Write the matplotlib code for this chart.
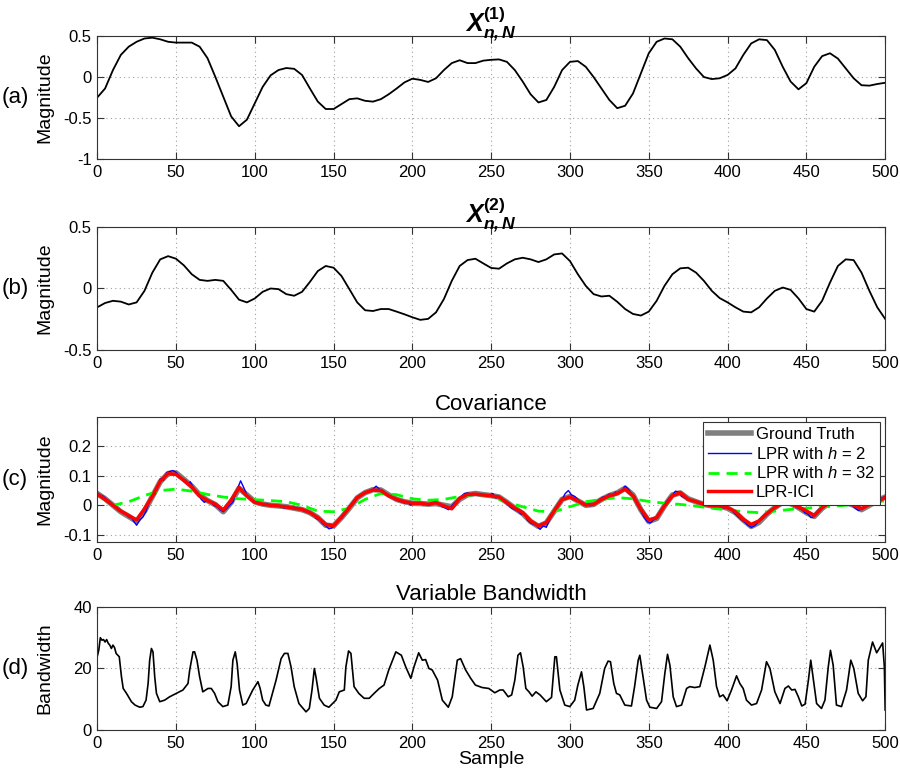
import numpy as np
import matplotlib
matplotlib.use('Agg')
import matplotlib.pyplot as plt

plt.rcParams['font.family'] = ['Liberation Sans', 'DejaVu Sans']
plt.rcParams['mathtext.fontset'] = 'custom'
plt.rcParams['mathtext.rm'] = 'Liberation Sans'
plt.rcParams['mathtext.it'] = 'Liberation Sans:italic'
plt.rcParams['mathtext.bf'] = 'Liberation Sans:bold'
plt.rcParams['mathtext.bfit'] = 'Liberation Sans:bold:italic'

# sample grid used for the smooth curves (every 5 samples)
samples5 = np.arange(0, 501, 5)

# (a) X^(1)_{n,N}
x1_vals = [-0.25, -0.14, 0.085, 0.27, 0.37, 0.43, 0.47, 0.48, 0.46, 0.43,
           0.42, 0.42, 0.42, 0.37, 0.23, 0.0, -0.24, -0.48, -0.60, -0.52,
           -0.32, -0.12, 0.02, 0.085, 0.11, 0.10, 0.025, -0.14, -0.30, -0.39,
           -0.39, -0.33, -0.27, -0.26, -0.29, -0.30, -0.27, -0.21, -0.14, -0.065,
           -0.02, -0.035, -0.06, -0.015, 0.085, 0.17, 0.205, 0.17, 0.17, 0.2,
           0.21, 0.215, 0.185, 0.085, -0.055, -0.21, -0.31, -0.28, -0.12, 0.085,
           0.185, 0.195, 0.125, 0.0, -0.14, -0.28, -0.38, -0.35, -0.2, 0.045,
           0.29, 0.43, 0.47, 0.46, 0.37, 0.23, 0.105, 0.0, -0.025, -0.015,
           0.025, 0.105, 0.27, 0.41, 0.46, 0.45, 0.33, 0.125, -0.055, -0.15,
           -0.075, 0.125, 0.255, 0.29, 0.225, 0.105, -0.015, -0.1, -0.105, -0.085,
           -0.07]

# (b) X^(2)_{n,N}
x2_vals = [-0.153, -0.118, -0.10, -0.107, -0.13, -0.113, -0.019, 0.129, 0.237, 0.263,
           0.242, 0.188, 0.116, 0.07, 0.062, 0.07, 0.062, -0.011, -0.091, -0.113,
           -0.081, -0.027, 0.0, -0.005, -0.046, -0.059, -0.027, 0.054, 0.142, 0.183,
           0.169, 0.102, -0.005, -0.113, -0.177, -0.183, -0.167, -0.167, -0.188, -0.21,
           -0.234, -0.255, -0.247, -0.194, -0.086, 0.062, 0.183, 0.231, 0.242, 0.204,
           0.167, 0.161, 0.204, 0.237, 0.25, 0.237, 0.215, 0.237, 0.277, 0.285,
           0.223, 0.116, 0.022, -0.046, -0.065, -0.059, -0.108, -0.167, -0.207, -0.22,
           -0.188, -0.1, 0.022, 0.116, 0.164, 0.169, 0.129, 0.062, -0.019, -0.078,
           -0.113, -0.153, -0.188, -0.194, -0.153, -0.081, -0.019, 0.008, -0.011, -0.081,
           -0.167, -0.188, -0.1, 0.048, 0.183, 0.237, 0.231, 0.129, -0.019, -0.153,
           -0.247]

# (c) covariance: ground truth and LPR-ICI (every 5 samples)
truth_vals = [0.04, 0.022, 0.0, -0.022, -0.038, -0.055, -0.02, 0.03, 0.08, 0.108,
              0.11, 0.088, 0.065, 0.035, 0.016, 0.002, -0.022, 0.01, 0.058, 0.035,
              0.012, 0.004, 0.0, -0.002, -0.005, -0.01, -0.015, -0.025, -0.042, -0.068,
              -0.07, -0.042, -0.01, 0.025, 0.043, 0.053, 0.052, 0.035, 0.02, 0.012,
              0.007, 0.006, 0.004, 0.006, 0.0, -0.005, 0.02, 0.036, 0.04, 0.036,
              0.033, 0.028, 0.01, -0.01, -0.028, -0.055, -0.072, -0.06, -0.02, 0.02,
              0.03, 0.015, 0.0, 0.003, 0.02, 0.033, 0.042, 0.058, 0.035, -0.015,
              -0.055, -0.045, -0.002, 0.035, 0.042, 0.022, 0.012, 0.003, -0.002, -0.003,
              -0.01, -0.025, -0.05, -0.072, -0.058, -0.03, -0.008, 0.01, 0.006, -0.008,
              -0.025, -0.038, -0.01, 0.01, 0.014, 0.01, 0.0, -0.015, 0.0, 0.015,
              0.028]
ici_vals = [0.038, 0.02, 0.0, -0.02, -0.035, -0.05, -0.012, 0.03, 0.082, 0.108,
            0.105, 0.085, 0.062, 0.032, 0.016, 0.004, -0.016, 0.018, 0.06, 0.032,
            0.01, 0.004, 0.0, -0.002, -0.006, -0.01, -0.014, -0.025, -0.042, -0.065,
            -0.07, -0.04, -0.008, 0.026, 0.043, 0.052, 0.05, 0.032, 0.02, 0.012,
            0.007, 0.007, 0.003, 0.009, -0.002, -0.012, 0.024, 0.037, 0.038, 0.035,
            0.032, 0.028, 0.009, -0.01, -0.025, -0.053, -0.07, -0.059, -0.019, 0.02,
            0.028, 0.015, 0.001, 0.003, 0.02, 0.032, 0.04, 0.055, 0.032, -0.014,
            -0.05, -0.042, -0.002, 0.032, 0.043, 0.02, 0.0125, 0.003, -0.002, -0.002,
            -0.008, -0.022, -0.048, -0.065, -0.053, -0.028, -0.008, 0.009, 0.006, -0.006,
            -0.019, -0.035, -0.008, 0.009, 0.0125, 0.009, 0.001, -0.012, 0.003, 0.0125,
            0.026]

# LPR with h = 2 (noisy estimate)
h2_x = [0, 2, 4, 6, 8, 10, 12, 14, 16, 18, 20, 22, 24, 25, 27, 29, 31, 33, 35, 37,
        39, 40, 42, 44, 46, 48, 50, 52, 54, 56, 58, 59, 61, 63, 65, 66, 68, 70, 72, 74,
        76, 78, 80, 82, 84, 86, 88, 90, 91, 93, 95, 97, 99, 101, 103, 105, 107, 109, 111, 113,
        115, 117, 119, 121, 123, 125, 127, 129, 131, 133, 135, 137, 139, 141, 143, 145, 147, 149, 151, 153,
        155, 157, 159, 161, 163, 165, 167, 169, 171, 173, 175, 177, 179, 181, 183, 185, 187, 189, 191, 193,
        195, 197, 199, 201, 203, 205, 207, 209, 211, 213, 215, 217, 219, 221, 223, 225, 227, 229, 231, 233,
        235, 237, 239, 241, 243, 245, 247, 249, 251, 253, 255, 257, 259, 261, 263, 265, 267, 269, 271, 273,
        275, 277, 279, 281, 283, 285, 287, 289, 291, 293, 295, 297, 299, 301, 303, 305, 307, 309, 311, 313,
        315, 317, 319, 321, 323, 325, 327, 329, 331, 333, 335, 337, 339, 341, 343, 345, 347, 349, 351, 353,
        355, 357, 359, 361, 363, 365, 367, 369, 371, 373, 375, 377, 379, 381, 383, 385, 387, 389, 391, 393,
        395, 397, 399, 401, 403, 405, 407, 409, 411, 413, 415, 417, 419, 421, 423, 425, 427, 429, 431, 433,
        435, 437, 439, 441, 443, 445, 447, 449, 451, 453, 455, 457, 459, 461, 463, 465, 467, 469, 471, 473,
        475, 477, 479, 481, 483, 485, 487, 489, 491, 493, 495, 497, 499, 500]
h2_vals = [0.042, 0.035, 0.03, 0.02, 0.012, 0.0, -0.008, -0.02, -0.022, -0.03,
           -0.04, -0.045, -0.06, -0.068, -0.05, -0.04, -0.02, 0.01, 0.03, 0.04,
           0.07, 0.09, 0.085, 0.11, 0.115, 0.118, 0.112, 0.1, 0.09, 0.085,
           0.07, 0.08, 0.06, 0.045, 0.03, 0.02, 0.01, 0.018, 0.012, 0.0,
           -0.005, -0.015, -0.022, -0.012, 0.0, 0.01, 0.04, 0.07, 0.083, 0.06,
           0.035, 0.025, 0.012, 0.008, 0.005, 0.002, 0.004, 0.0, -0.002, 0.0,
           -0.003, -0.005, -0.01, -0.003, -0.008, -0.006, -0.012, -0.01, -0.02, -0.022,
           -0.025, -0.03, -0.045, -0.05, -0.062, -0.07, -0.08, -0.077, -0.065, -0.05,
           -0.045, -0.03, -0.015, -0.005, 0.015, 0.025, 0.035, 0.04, 0.045, 0.05,
           0.055, 0.065, 0.055, 0.05, 0.04, 0.032, 0.03, 0.02, 0.015, 0.012,
           0.008, 0.01, 0.0, 0.01, 0.005, 0.008, 0.002, 0.006, 0.0, 0.008,
           0.01, 0.004, -0.005, -0.01, -0.015, -0.002, 0.01, 0.02, 0.03, 0.04,
           0.042, 0.038, 0.04, 0.035, 0.04, 0.032, 0.03, 0.035, 0.04, 0.025,
           0.03, 0.015, 0.01, 0.0, -0.01, -0.015, -0.02, -0.03, -0.03, -0.05,
           -0.06, -0.065, -0.07, -0.082, -0.07, -0.075, -0.05, -0.03, -0.01, 0.01,
           0.02, 0.04, 0.05, 0.035, 0.03, 0.02, 0.01, 0.0, 0.003, -0.002,
           0.005, 0.012, 0.02, 0.028, 0.03, 0.038, 0.035, 0.045, 0.04, 0.05,
           0.065, 0.055, 0.04, 0.03, 0.0, -0.02, -0.04, -0.055, -0.06, -0.05,
           -0.045, -0.03, -0.01, 0.01, 0.025, 0.035, 0.048, 0.045, 0.03, 0.025,
           0.02, 0.015, 0.013, 0.008, 0.005, 0.003, 0.0, 0.004, -0.003, 0.0,
           -0.005, -0.008, -0.01, -0.012, -0.02, -0.03, -0.04, -0.05, -0.058, -0.068,
           -0.075, -0.07, -0.06, -0.045, -0.035, -0.028, -0.02, -0.01, -0.005, 0.005,
           0.01, 0.008, 0.005, 0.002, -0.005, -0.01, -0.015, -0.025, -0.03, -0.042,
           -0.038, -0.02, -0.01, 0.0, 0.008, 0.012, 0.015, 0.012, 0.015, 0.012,
           0.008, 0.005, 0.0, -0.01, -0.018, -0.012, -0.005, 0.005, 0.01, 0.012,
           0.018, 0.022, 0.028, 0.03]

# LPR with h = 32 (every 10 samples)
h32_x = np.arange(0, 501, 10)
h32_vals = [0.038, 0.0, 0.012, 0.033, 0.05, 0.055, 0.048, 0.037, 0.028, 0.022,
            0.019, 0.016, 0.012, 0.0, -0.02, -0.022, -0.01, 0.02, 0.04, 0.036,
            0.022, 0.017, 0.02, 0.03, 0.037, 0.03, 0.01, -0.005, -0.02, -0.022,
            -0.005, 0.012, 0.02, 0.026, 0.022, 0.013, 0.007, 0.003, -0.003, -0.01,
            -0.016, -0.022, -0.025, -0.02, -0.014, -0.01, -0.006, -0.002, 0.002, 0.009,
            0.015]

# (d) variable bandwidth
bw_x = [0, 1, 2, 3, 4, 5, 6, 7, 8, 9, 10, 11, 12, 14, 15.4, 16.5, 18.6, 21.7, 24, 27,
        29, 31, 32.3, 33.3, 34.4, 35.4, 36.5, 37.6, 39.7, 42.8, 46, 50.2, 54.4, 57.6, 58.7, 60.8, 61.8, 63.3, 65, 67,
        70.3, 72.4, 74.5, 76.6, 79.7, 82.9, 85, 86.1, 87.6, 88.8, 90.3, 92.4, 94.5, 98.7, 102, 103.4, 105, 107, 109, 113.5,
        116.7, 118.8, 121, 123, 125, 128, 132.5, 134.6, 136.3, 137.8, 138.8, 141, 144, 147, 151.5, 153.6, 156.8, 157.8, 159.5, 161,
        163, 166, 169.4, 172.6, 175.7, 179, 182, 185, 189.5, 193, 195.8, 199, 201, 204, 206.3, 208.4, 210.5, 212.6, 216, 219,
        222.8, 225.3, 228.5, 230.6, 233.8, 237, 240, 244.3, 248.5, 252.3, 255.5, 257.6, 260.8, 263, 265, 267, 268.6, 270.3, 272, 274,
        276, 278.4, 281, 285, 288.3, 290.4, 291.4, 293.6, 296.7, 299.9, 303, 305, 307.3, 308.8, 310.5, 314.7, 318.9, 322, 324.2, 325.7,
        327.8, 329.5, 331.6, 334.8, 339, 341, 343.3, 344.3, 346.5, 348.6, 350.7, 355, 358.1, 360.2, 361.9, 363.4, 365.5, 367.6, 370.8, 374,
        376, 379.2, 382.4, 385.6, 388.8, 390.9, 393, 395, 397.2, 399.7, 402.5, 405.7, 407.8, 409.9, 412, 415.2, 418.4, 421.6, 424.7, 426.9,
        430, 433.3, 436.4, 438.6, 440.7, 442.8, 444.9, 447.1, 449.2, 451.3, 452.8, 454.5, 456.5, 459.6, 461.8, 463.9, 465.3, 467, 469.1, 472.3,
        475.5, 478.2, 480.1, 482.9, 485.7, 487.8, 489.3, 492, 494.6, 496.3, 498.4, 499.5, 500]
bw_vals = [23.8, 26, 30, 29.2, 29.4, 28.6, 29.4, 28.2, 27.6, 26.5, 27.6, 26.8, 24.9, 23.8, 17.3, 13.5, 11.9, 9.2, 8.1, 7.4,
           7.6, 9.7, 15.1, 22.7, 26.5, 25.4, 17.3, 11.9, 9.2, 9.7, 10.8, 11.9, 13, 15.1, 19.5, 25.4, 25.4, 22.7, 17.3, 12.4,
           13.5, 13.5, 11.9, 9.2, 7.6, 8.1, 14.1, 22.7, 25.4, 21.6, 13, 8.1, 8.6, 13, 15.7, 13.5, 9.7, 8.1, 7.8, 16.2,
           23.2, 24.9, 24.9, 20.5, 14.1, 8.6, 5.9, 7, 13, 20, 17.3, 10.3, 8.1, 7.4, 9.7, 12.4, 13, 20.5, 25.7, 24.9,
           14.1, 11.9, 10.3, 10.3, 11.9, 13.5, 14.6, 19.5, 25.4, 24.3, 20.5, 16.8, 20.5, 25.1, 22.7, 22.9, 20, 19.5, 16.2, 9.7,
           7.4, 10.8, 22.7, 23.2, 19.5, 16.8, 14.6, 13.8, 13.5, 12.1, 13, 13, 10.8, 11.4, 16.2, 24.3, 25.1, 20.5, 13.5, 12.4,
           11, 12.4, 11.4, 9.2, 10.6, 23.8, 23.8, 13, 8.1, 7.6, 9.7, 14.6, 18.9, 14.1, 6.5, 7, 11.9, 20, 22.4, 22.2,
           15.1, 11.9, 11.4, 8.1, 7.8, 14.1, 22.7, 24.3, 16.8, 9.7, 7.4, 7, 9.2, 18.4, 24.6, 21.1, 10.8, 7.6, 8.1, 13.5,
           14.1, 13.8, 14.1, 20.5, 27.6, 22.7, 14.1, 10.8, 11.4, 9.5, 13, 17.6, 15.1, 13.5, 9.7, 8.1, 8.6, 13, 22.2, 20,
           12.4, 8.6, 13.5, 14.3, 13, 13.2, 10.8, 7.8, 8.4, 16.2, 22.7, 16.2, 8.6, 7, 9.7, 20.5, 25.9, 21.1, 8.1, 7.6,
           13, 22.7, 20, 11.9, 9.5, 10.8, 22.7, 28.6, 25.1, 26.5, 28.3, 20.5, 6.5]

fig = plt.figure(figsize=(9, 7.75), dpi=100)
left, width, height = 0.108, 0.8755, 0.1587
ax_a = fig.add_axes([left, 0.7948, width, height])
ax_b = fig.add_axes([left, 0.5484, width, height])
ax_c = fig.add_axes([left, 0.3006, width, 0.1613])
ax_d = fig.add_axes([left, 0.0581, width, height])

ax_a.plot(samples5, x1_vals, color='black', lw=1.3)
ax_b.plot(samples5, x2_vals, color='black', lw=1.3)
ax_c.plot(samples5, truth_vals, color='#808080', lw=4, label='Ground Truth')
ax_c.plot(h2_x, h2_vals, color='blue', lw=1, label='LPR with $h$ = 2')
ax_c.plot(h32_x, h32_vals, color='#00ff00', lw=2, ls=(0, (4, 2.5)), label='LPR with $h$ = 32')
ax_c.plot(samples5, ici_vals, color='red', lw=2.5, label='LPR-ICI')
ax_d.plot(bw_x, bw_vals, color='black', lw=1.2)

ax_a.set_ylim(-1, 0.5)
ax_a.set_yticks([-1, -0.5, 0, 0.5], ['-1', '-0.5', '0', '0.5'])
ax_b.set_ylim(-0.5, 0.5)
ax_b.set_yticks([-0.5, 0, 0.5], ['-0.5', '0', '0.5'])
ax_c.set_ylim(-0.125, 0.3)
ax_c.set_yticks([-0.1, 0, 0.1, 0.2], ['-0.1', '0', '0.1', '0.2'])
ax_d.set_ylim(0, 40)
ax_d.set_yticks([0, 20, 40], ['0', '20', '40'])

ax_a.set_title(r'$\mathbfit{X}^{\mathbf{(1)}}_{\mathbfit{n,N}}$', fontsize=18, pad=3)
ax_b.set_title(r'$\mathbfit{X}^{\mathbf{(2)}}_{\mathbfit{n,N}}$', fontsize=18, pad=3)
ax_c.set_title('Covariance', fontsize=16, pad=5)
ax_d.set_title('Variable Bandwidth', fontsize=16, pad=5)

for ax, lab in zip([ax_a, ax_b, ax_c, ax_d], ['(a)', '(b)', '(c)', '(d)']):
    ax.set_xlim(0, 500)
    ax.set_xticks(range(0, 501, 50))
    ax.tick_params(direction='in', top=True, right=True, labelsize=12, pad=4,
                   length=5, width=0.8, color='#333333')
    ax.grid(True, ls=(0, (1, 3)), color='#a0a0a0', lw=0.8)
    for sp in ax.spines.values():
        sp.set_color('#333333')
        sp.set_linewidth(0.8)
    ax.set_ylabel('Bandwidth' if lab == '(d)' else 'Magnitude', fontsize=14)
    ax.yaxis.set_label_coords(-0.056, 0.5)
    pos = ax.get_position()
    fig.text(0.002, pos.y0 + pos.height / 2, lab, fontsize=16, va='center', ha='left')

ax_d.set_xlabel('Sample', fontsize=14, labelpad=0)

leg = ax_c.legend(loc='upper right', fontsize=12, fancybox=False, framealpha=1,
                  edgecolor='#333333', borderpad=0.3, labelspacing=0.22,
                  handlelength=2.6, handletextpad=0.3, borderaxespad=0.3)
leg.get_frame().set_linewidth(0.8)

fig.savefig('out.png', dpi=100)
